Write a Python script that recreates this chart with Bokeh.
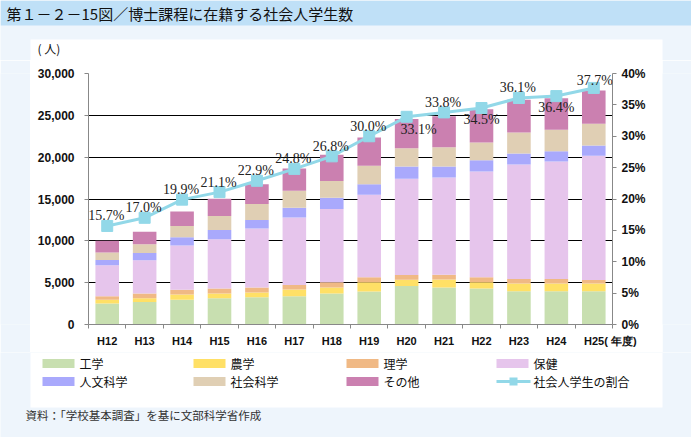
from bokeh.plotting import figure
from bokeh.layouts import column, row
from bokeh.models import (Range1d, LinearAxis, NumeralTickFormatter, FixedTicker,
                          PrintfTickFormatter, LabelSet, ColumnDataSource,
                          SingleIntervalTicker)
from bokeh.core.properties import value
from bokeh.embed import file_html
from bokeh.resources import INLINE

# ---------------- data ----------------
years = ["H12", "H13", "H14", "H15", "H16", "H17", "H18",
         "H19", "H20", "H21", "H22", "H23", "H24", "H25"]
engineering = [2520, 2680, 2970, 3130, 3250, 3370, 3700, 3940, 4590, 4430, 4310, 3980, 3980, 3980]
agriculture = [450, 450, 610, 570, 570, 810, 730, 1100, 770, 935, 730, 935, 935, 935]
science = [410, 570, 570, 610, 610, 530, 610, 610, 570, 570, 610, 530, 530, 405]
health = [3700, 3980, 5290, 5890, 7050, 8085, 8760, 9870, 11505, 11625, 12630, 13670, 14030, 14835]
humanities = [640, 880, 1000, 1080, 1000, 1160, 1360, 1240, 1440, 1320, 1360, 1320, 1240, 1240]
social = [880, 1040, 1320, 1680, 1920, 2040, 2000, 2200, 2200, 2320, 2120, 2520, 2560, 2600]
other = [1400, 1480, 1760, 2080, 2360, 2640, 3120, 3400, 3480, 3680, 3960, 3920, 3760, 3960]
ratio = [15.7, 17.0, 19.9, 21.1, 22.9, 24.8, 26.8, 30.0, 33.1, 33.8, 34.5, 36.1, 36.4, 37.7]
series_names = ["工学", "農学", "理学", "保健", "人文科学", "社会科学", "その他"]
line_name = "社会人学生の割合"
title_text = "第１－２－15図／博士課程に在籍する社会人学生数"
source_text = "資料：「学校基本調査」を基に文部科学省作成"
y_unit = "(  人)"
x_unit = "( 年度)"
label_side = ["above"] * 8 + ["below_right", "above", "below", "above", "below", "above_low"]

# ---------------- styles ----------------
colors = ["#C8DFB0", "#FFE066", "#F0B985", "#E6C5EC", "#A9A9FC", "#E0CFB4", "#CB80B0"]
line_color = "#92D8E8"
page_bg = "#EEF5FC"
band_bg = "#BFE0F7"
jp_font = "Noto Sans CJK JP"
num_font = "Liberation Sans"

W, H = 691, 437
PL, PR = 30, 662            # white panel, horizontal
TOP_H = 60                  # height of top strip
MID_H = 292                 # height of chart strip
BOT_H = H - TOP_H - MID_H   # height of bottom strip
FL, FR, FT, FB = 88, 612, 73, 324   # plot frame on the page

offsets = {"above": (-1, 10), "above_low": (1, 7), "below": (0, -11), "below_right": (12, -13)}
fields = ["engineering", "agriculture", "science", "health", "humanities", "social", "other"]
n = len(years)
idx = list(range(n))


def strip(width, height, y0):
    f = figure(width=width, height=height, x_range=Range1d(0, width),
               y_range=Range1d(y0 + height, y0), output_backend="svg",
               toolbar_location=None, title=None, x_axis_type=None, y_axis_type=None,
               min_border=0, min_border_left=0, min_border_right=0,
               min_border_top=0, min_border_bottom=0)
    f.border_fill_color = page_bg
    f.background_fill_color = page_bg
    f.outline_line_color = None
    f.xgrid.visible = False
    f.ygrid.visible = False
    return f


def txt(f, x, y, t, size="12px", color="#111111"):
    f.text(x=[x], y=[y], text=[t], text_font=value(jp_font), text_font_size=value(size),
           text_color=color, text_baseline="middle", text_align="left")


# ---------- top strip: title band ----------
top = strip(W, TOP_H, 0)
top.quad(left=[0], right=[W], top=[0], bottom=[25], fill_color=band_bg, line_color=None)
top.quad(left=[PL], right=[PR], top=[39], bottom=[TOP_H], fill_color="white", line_color=None)
txt(top, 6, 13, title_text, size="15px")
txt(top, 37, 48, y_unit)

# ---------- side strips ----------
lstrip = strip(PL, MID_H, TOP_H)
lstrip.quad(left=[0], right=[0.001], top=[TOP_H], bottom=[TOP_H + 1], fill_alpha=0, line_color=None)
rstrip = strip(W - PR, MID_H, TOP_H)
rstrip.quad(left=[0], right=[0.001], top=[TOP_H], bottom=[TOP_H + 1], fill_alpha=0, line_color=None)

# ---------- main chart ----------
src = ColumnDataSource(dict(
    x=idx, engineering=engineering, agriculture=agriculture, science=science,
    health=health, humanities=humanities, social=social, other=other,
    ratio=ratio, ratio_label=["%.1f%%" % r for r in ratio],
    dx=[offsets[s][0] for s in label_side], dy=[offsets[s][1] for s in label_side],
))

p = figure(width=PR - PL, height=MID_H, x_range=Range1d(-0.5, n - 0.5),
           y_range=Range1d(0, 30000), output_backend="svg", toolbar_location=None,
           title=None,
           min_border_left=FL - PL, min_border_right=PR - FR,
           min_border_top=FT - TOP_H, min_border_bottom=TOP_H + MID_H - FB)
p.border_fill_color = "white"
p.background_fill_color = "white"
p.outline_line_color = None

p.vbar_stack(fields, x="x", width=0.63, color=colors, line_color=None, source=src)

left = p.yaxis[0]
left.ticker = SingleIntervalTicker(interval=5000)
left.formatter = NumeralTickFormatter(format="0,0")
p.extra_y_ranges = {"pct": Range1d(0, 40)}
right = LinearAxis(y_range_name="pct", ticker=SingleIntervalTicker(interval=5),
                   formatter=PrintfTickFormatter(format="%d%%"))
p.add_layout(right, "right")

for ax in (left, right):
    ax.axis_line_color = "#888888"
    ax.major_tick_line_color = "#888888"
    ax.major_tick_out = 4
    ax.major_tick_in = 0
    ax.minor_tick_line_color = None
    ax.major_label_text_font = num_font
    ax.major_label_text_font_size = "12px"
    ax.major_label_text_font_style = "bold"
    ax.major_label_text_color = "#111111"
left.major_label_standoff = 10
right.major_label_standoff = 5

x_labels = list(years)
x_labels[-1] = "\u3000\u3000\u3000" + years[-1] + x_unit
xa = p.xaxis[0]
xa.ticker = FixedTicker(ticks=idx, minor_ticks=[i - 0.5 for i in range(n + 1)])
xa.major_label_overrides = {i: lab for i, lab in zip(idx, x_labels)}
xa.axis_line_color = "#888888"
xa.major_tick_line_color = None
xa.major_tick_out = 0
xa.minor_tick_line_color = "#888888"
xa.minor_tick_out = 4
xa.minor_tick_in = 0
xa.major_label_standoff = 6
xa.major_label_text_font = num_font
xa.major_label_text_font_size = "11px"
xa.major_label_text_font_style = "bold"
xa.major_label_text_color = "#111111"

p.xgrid.grid_line_color = None
p.ygrid.grid_line_color = "black"
p.ygrid.grid_line_width = 1

p.line(x="x", y="ratio", y_range_name="pct", source=src, line_color=line_color, line_width=3)
p.scatter(x="x", y="ratio", y_range_name="pct", source=src, marker="square", size=11,
          fill_color=line_color, line_color=line_color)
p.add_layout(LabelSet(x="x", y="ratio", text="ratio_label", y_range_name="pct",
                      x_offset="dx", y_offset="dy", source=src,
                      text_align="center", text_baseline="middle",
                      text_font=value("Liberation Serif"), text_font_size=value("14px"),
                      text_color="#222222"))

# ---------- bottom strip: legend + source ----------
bot = strip(W, BOT_H, TOP_H + MID_H)
bot.quad(left=[PL], right=[PR], top=[TOP_H + MID_H], bottom=[407], fill_color="white", line_color=None)
col_x = [42, 193, 346, 496]
row_y = [363, 381]
entries = list(zip(series_names, colors)) + [(line_name, None)]
for i, (name, col) in enumerate(entries):
    cx = col_x[i % 4]
    cy = row_y[i // 4]
    if col is not None:
        bot.quad(left=[cx], right=[cx + 32], top=[cy - 4.5], bottom=[cy + 4.5],
                 fill_color=col, line_color=None)
    else:
        bot.quad(left=[cx], right=[cx + 34], top=[cy - 1.5], bottom=[cy + 1.5],
                 fill_color=line_color, line_color=None)
        bot.quad(left=[cx + 13], right=[cx + 21], top=[cy - 4], bottom=[cy + 4],
                 fill_color=line_color, line_color=None)
    txt(bot, cx + 37, cy, name)
txt(bot, 25, 414, source_text, size="11.5px", color="#333333")

layout = column(top, row(lstrip, p, rstrip, spacing=0), bot, spacing=0)
open("out.html", "w").write(file_html(layout, INLINE))
